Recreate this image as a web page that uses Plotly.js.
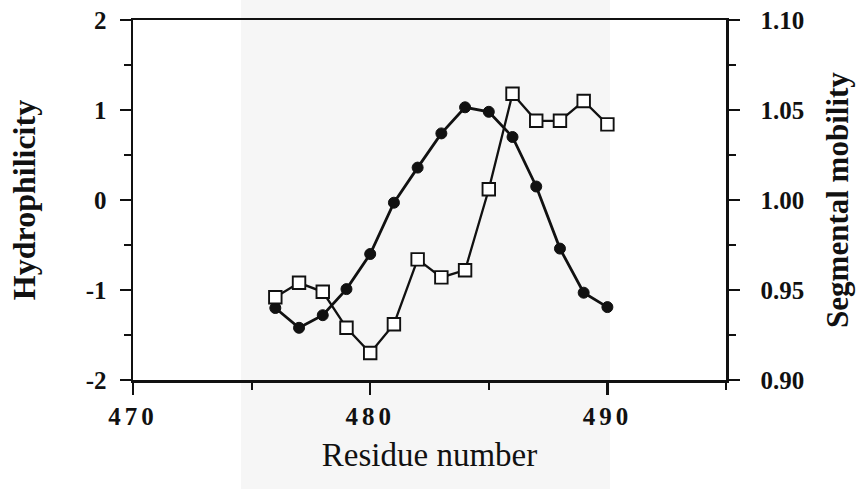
<!DOCTYPE html>
<html>
<head>
<meta charset="utf-8">
<script src="https://cdn.plot.ly/plotly-3.0.1.min.js"></script>
<style>
  html, body { margin: 0; padding: 0; background: #ffffff; }
  #chart { width: 860px; height: 489px; }
  .xaxislayer-above .xtick text { letter-spacing: 4px; }
</style>
</head>
<body>
<div id="chart"></div>
<script>
// Residue positions along the sequence
const residues = [476, 477, 478, 479, 480, 481, 482, 483, 484, 485, 486, 487, 488, 489, 490];

// Hydrophilicity profile (left axis, filled circles)
const hydrophilicity = [-1.20, -1.42, -1.28, -0.99, -0.60, -0.03, 0.36, 0.74, 1.03, 0.98, 0.70, 0.15, -0.54, -1.03, -1.19];

// Segmental mobility profile (right axis, open squares)
const mobility = [0.946, 0.954, 0.949, 0.929, 0.915, 0.931, 0.967, 0.957, 0.961, 1.006, 1.059, 1.044, 1.044, 1.055, 1.042];

// Axis ticks
const xTickValues = [470, 480, 490];
const xTickLabels = ['470', '480', '490'];
const yTickValues = [-2, -1, 0, 1, 2];
const yTickLabels = ['-2', '-1', '0', '1', '2'];
const y2TickValues = [0.90, 0.95, 1.00, 1.05, 1.10];
const y2TickLabels = ['0.90', '0.95', '1.00', '1.05', '1.10'];

const serif = 'Liberation Serif, Times New Roman, serif';
const tickFont = { family: serif, size: 25, color: '#111111', weight: 'bold' };

const traces = [
  {
    x: residues,
    y: hydrophilicity,
    yaxis: 'y',
    type: 'scatter',
    mode: 'lines+markers',
    line: { color: '#111111', width: 2.8 },
    marker: { symbol: 'circle', size: 11, color: '#111111', line: { color: '#111111', width: 1 } },
    hoverinfo: 'x+y'
  },
  {
    x: residues,
    y: mobility,
    yaxis: 'y2',
    type: 'scatter',
    mode: 'lines+markers',
    line: { color: '#111111', width: 2.3 },
    marker: { symbol: 'square', size: 12.5, color: '#ffffff', line: { color: '#111111', width: 1.9 } },
    hoverinfo: 'x+y'
  }
];

const axisCommon = {
  showline: true,
  linecolor: '#111111',
  linewidth: 2.5,
  ticks: 'outside',
  tickcolor: '#111111',
  tickwidth: 2.2,
  ticklen: 12,
  showgrid: false,
  zeroline: false,
  tickfont: tickFont
};

const layout = {
  width: 860,
  height: 489,
  margin: { l: 133, r: 134, t: 20, b: 109 },
  paper_bgcolor: '#ffffff',
  plot_bgcolor: 'rgba(0,0,0,0)',
  showlegend: false,
  xaxis: Object.assign({}, axisCommon, {
    range: [470, 495],
    tickvals: xTickValues,
    ticktext: xTickLabels,
    mirror: true,
    ticklabelstandoff: 0,
    minor: { dtick: 5, tick0: 470, ticks: 'outside', ticklen: 7, tickwidth: 2, tickcolor: '#111111', showgrid: false },
    title: { text: 'Residue number', font: { family: serif, size: 33, color: '#111111' }, standoff: 15 }
  }),
  yaxis: Object.assign({}, axisCommon, {
    range: [-2, 2],
    tickvals: yTickValues,
    ticktext: yTickLabels,
    ticklen: 11,
    ticklabelstandoff: 8,
    minor: { dtick: 0.5, tick0: 0, ticks: 'outside', ticklen: 7, tickwidth: 2, tickcolor: '#111111', showgrid: false },
    title: { text: 'Hydrophilicity', font: { family: serif, size: 32, color: '#111111', weight: 'bold' }, standoff: 41 }
  }),
  yaxis2: Object.assign({}, axisCommon, {
    overlaying: 'y',
    side: 'right',
    range: [0.90, 1.10],
    tickvals: y2TickValues,
    ticktext: y2TickLabels,
    ticklen: 11,
    ticklabelstandoff: 16,
    minor: { dtick: 0.025, tick0: 0.9, ticks: 'outside', ticklen: 7, tickwidth: 2, tickcolor: '#111111', showgrid: false },
    title: { text: 'Segmental mobility', font: { family: serif, size: 31, color: '#111111', weight: 'bold' }, standoff: 23 }
  }),
  shapes: [
    {
      type: 'rect', layer: 'below',
      xref: 'paper', yref: 'paper',
      x0: (241 - 133) / 593, x1: (610 - 133) / 593,
      y0: -109 / 360, y1: 1 + 20 / 360,
      fillcolor: '#f6f6f6', line: { width: 0 }
    }
  ]
};

Plotly.newPlot('chart', traces, layout, { displayModeBar: false, staticPlot: true });
</script>
</body>
</html>
